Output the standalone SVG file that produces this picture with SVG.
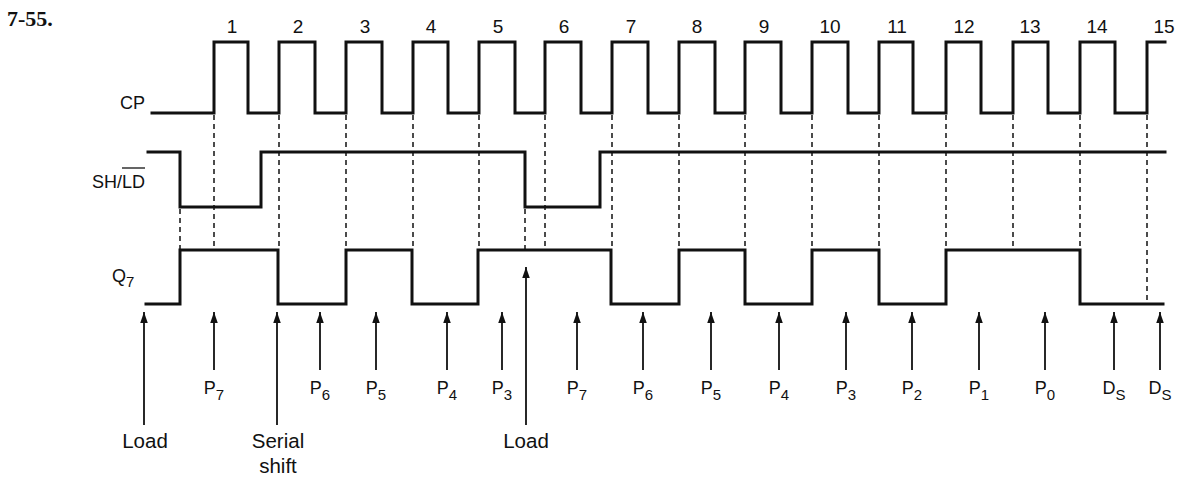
<svg xmlns="http://www.w3.org/2000/svg" width="1183" height="477" viewBox="0 0 1183 477">
<style>
.wave{fill:none;stroke:#111;stroke-width:3;stroke-linejoin:miter;stroke-linecap:square}
.dash{fill:none;stroke:#111;stroke-width:1.5;stroke-dasharray:5 4}
.arr{fill:none;stroke:#111;stroke-width:1.8;marker-end:url(#ah)}
.t{font-family:"Liberation Sans",Arial,sans-serif;font-size:18px;fill:#111}
.num{font-family:"Liberation Sans",Arial,sans-serif;font-size:19px;fill:#111;text-anchor:middle}
.lab{font-family:"Liberation Sans",Arial,sans-serif;font-size:18px;fill:#111;text-anchor:middle}
.big{font-family:"Liberation Sans",Arial,sans-serif;font-size:20.5px;fill:#111;text-anchor:middle}
.sub{font-size:15px}
</style>
<defs>
<marker id="ah" markerUnits="userSpaceOnUse" markerWidth="12" markerHeight="8" refX="11" refY="3.75" orient="auto">
<path d="M0,0 L11,3.75 L0,7.5 z" fill="#111"/>
</marker>
</defs>
<rect width="1183" height="477" fill="#fff"/>

<g id="title">
<text x="7" y="26" style="font-family:'Liberation Serif','Times New Roman',serif;font-size:22px;font-weight:bold;fill:#111">7-55.</text>
</g>

<g id="clock-numbers">
<text class="num" x="232" y="33">1</text>
<text class="num" x="298" y="33">2</text>
<text class="num" x="365" y="33">3</text>
<text class="num" x="431" y="33">4</text>
<text class="num" x="498" y="33">5</text>
<text class="num" x="564" y="33">6</text>
<text class="num" x="631" y="33">7</text>
<text class="num" x="697" y="33">8</text>
<text class="num" x="764" y="33">9</text>
<text class="num" x="830" y="33">10</text>
<text class="num" x="897" y="33">11</text>
<text class="num" x="964" y="33">12</text>
<text class="num" x="1030" y="33">13</text>
<text class="num" x="1097" y="33">14</text>
<text class="num" x="1164" y="33">15</text>
</g>

<g id="cp">
<text class="t" x="120" y="109">CP</text>
<path class="wave" d="M152,113 H214 V42 H248 V113 H279 V42 H315 V113 H346 V42 H382 V113 H413 V42 H448 V113 H479 V42 H515 V113 H545 V42 H581 V113 H612 V42 H648 V113 H679 V42 H715 V113 H745 V42 H781 V113 H812 V42 H848 V113 H879 V42 H913 V113 H946 V42 H981 V113 H1013 V42 H1048 V113 H1080 V42 H1115 V113 H1147 V42 H1165"/>
</g>

<g id="shld">
<text class="t" x="92" y="188">SH/LD</text>
<line x1="122" y1="168" x2="145" y2="168" stroke="#111" stroke-width="1.3"/>
<path class="wave" d="M148,152 H180 V207 H261 V152 H525 V207 H600 V152 H1165"/>
</g>

<g id="q7">
<text class="t" x="112" y="282">Q<tspan class="sub" dy="5">7</tspan></text>
<path class="wave" d="M146,304 H180 V250 H278 V304 H346 V250 H412 V304 H478 V250 H611 V304 H679 V250 H745 V304 H812 V250 H879 V304 H946 V250 H1080 V304 H1163"/>
</g>

<g id="dashes">
<line class="dash" x1="180" y1="209" x2="180" y2="249"/>
<line class="dash" x1="214" y1="115" x2="214" y2="249"/>
<line class="dash" x1="279" y1="115" x2="279" y2="249"/>
<line class="dash" x1="346" y1="115" x2="346" y2="249"/>
<line class="dash" x1="413" y1="115" x2="413" y2="249"/>
<line class="dash" x1="479" y1="115" x2="479" y2="249"/>
<line class="dash" x1="525" y1="209" x2="525" y2="249"/>
<line class="dash" x1="545" y1="115" x2="545" y2="249"/>
<line class="dash" x1="612" y1="115" x2="612" y2="249"/>
<line class="dash" x1="679" y1="115" x2="679" y2="249"/>
<line class="dash" x1="745" y1="115" x2="745" y2="249"/>
<line class="dash" x1="812" y1="115" x2="812" y2="249"/>
<line class="dash" x1="879" y1="115" x2="879" y2="249"/>
<line class="dash" x1="946" y1="115" x2="946" y2="249"/>
<line class="dash" x1="1013" y1="115" x2="1013" y2="249"/>
<line class="dash" x1="1080" y1="115" x2="1080" y2="249"/>
<line class="dash" x1="1147" y1="115" x2="1147" y2="303"/>
</g>

<g id="connectors">
<line class="arr" x1="144" y1="425" x2="144" y2="312"/>
<line class="arr" x1="214" y1="370" x2="214" y2="312"/>
<line class="arr" x1="277" y1="425" x2="277" y2="312"/>
<line class="arr" x1="320" y1="370" x2="320" y2="312"/>
<line class="arr" x1="376" y1="370" x2="376" y2="312"/>
<line class="arr" x1="447" y1="370" x2="447" y2="312"/>
<line class="arr" x1="502" y1="370" x2="502" y2="312"/>
<line class="arr" x1="526" y1="425" x2="526" y2="267"/>
<line class="arr" x1="577" y1="370" x2="577" y2="312"/>
<line class="arr" x1="643" y1="370" x2="643" y2="312"/>
<line class="arr" x1="711" y1="370" x2="711" y2="312"/>
<line class="arr" x1="779" y1="370" x2="779" y2="312"/>
<line class="arr" x1="846" y1="370" x2="846" y2="312"/>
<line class="arr" x1="912" y1="370" x2="912" y2="312"/>
<line class="arr" x1="979" y1="370" x2="979" y2="312"/>
<line class="arr" x1="1045" y1="370" x2="1045" y2="312"/>
<line class="arr" x1="1114" y1="370" x2="1114" y2="312"/>
<line class="arr" x1="1160" y1="370" x2="1160" y2="312"/>
</g>

<g id="bit-labels">
<text class="lab" x="214" y="394">P<tspan class="sub" dy="6">7</tspan></text>
<text class="lab" x="320" y="394">P<tspan class="sub" dy="6">6</tspan></text>
<text class="lab" x="376" y="394">P<tspan class="sub" dy="6">5</tspan></text>
<text class="lab" x="447" y="394">P<tspan class="sub" dy="6">4</tspan></text>
<text class="lab" x="502" y="394">P<tspan class="sub" dy="6">3</tspan></text>
<text class="lab" x="577" y="394">P<tspan class="sub" dy="6">7</tspan></text>
<text class="lab" x="643" y="394">P<tspan class="sub" dy="6">6</tspan></text>
<text class="lab" x="711" y="394">P<tspan class="sub" dy="6">5</tspan></text>
<text class="lab" x="779" y="394">P<tspan class="sub" dy="6">4</tspan></text>
<text class="lab" x="846" y="394">P<tspan class="sub" dy="6">3</tspan></text>
<text class="lab" x="912" y="394">P<tspan class="sub" dy="6">2</tspan></text>
<text class="lab" x="979" y="394">P<tspan class="sub" dy="6">1</tspan></text>
<text class="lab" x="1045" y="394">P<tspan class="sub" dy="6">0</tspan></text>
<text class="lab" x="1114" y="394">D<tspan class="sub" dy="6">S</tspan></text>
<text class="lab" x="1160" y="394">D<tspan class="sub" dy="6">S</tspan></text>
</g>

<g id="event-labels">
<text class="big" x="145" y="448">Load</text>
<text class="big" x="278" y="448">Serial</text>
<text class="big" x="278" y="473">shift</text>
<text class="big" x="526" y="448">Load</text>
</g>
</svg>
